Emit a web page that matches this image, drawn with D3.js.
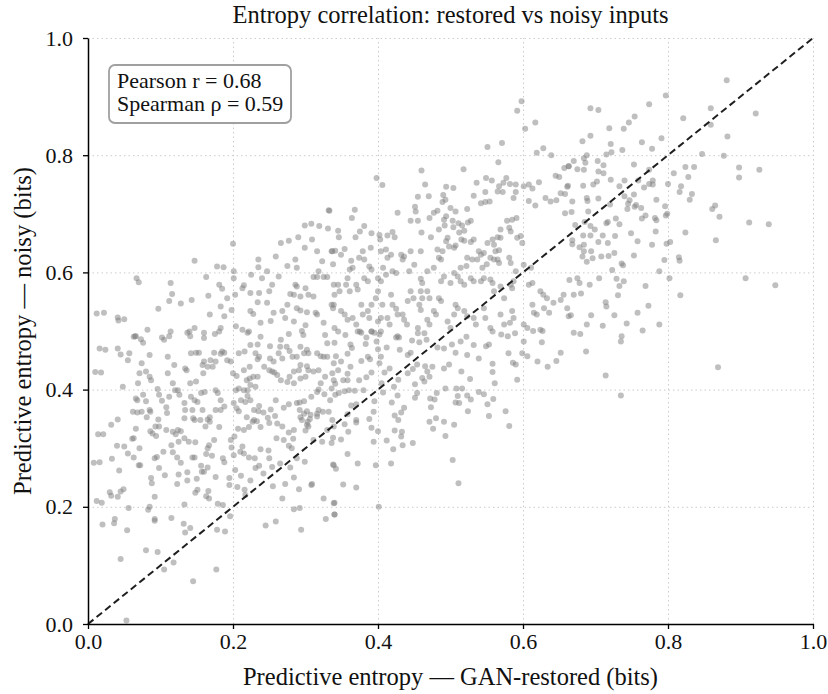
<!DOCTYPE html>
<html>
<head>
<meta charset="utf-8">
<script src="https://cdn.jsdelivr.net/npm/d3@7"></script>
<style>
  html, body { margin: 0; padding: 0; background: #fff; }
  svg { display: block; font-family: 'Liberation Serif', 'DejaVu Serif', serif; }
</style>
</head>
<body>
<div id="chart"></div>
<script>
// [restored entropy, noisy entropy] pairs
const upperLeft = [[0.332,0.706],[0.200,0.649],[0.147,0.620],[0.178,0.610],[0.187,0.609],[0.067,0.590],[0.070,0.583],[0.114,0.582],[0.022,0.531],[0.041,0.523],[0.042,0.518],[0.097,0.538],[0.112,0.551],[0.116,0.563],[0.128,0.547],[0.143,0.553],[0.163,0.592],[0.166,0.560],[0.181,0.579],[0.185,0.572],[0.183,0.542],[0.168,0.528],[0.188,0.525],[0.192,0.556],[0.198,0.536],[0.203,0.562],[0.201,0.590],[0.201,0.602],[0.215,0.578],[0.213,0.573],[0.224,0.565],[0.225,0.596],[0.235,0.622],[0.235,0.609],[0.247,0.602],[0.240,0.590],[0.236,0.565],[0.234,0.549],[0.247,0.548],[0.250,0.568],[0.254,0.579],[0.263,0.593],[0.259,0.627],[0.266,0.650],[0.277,0.654],[0.275,0.611],[0.286,0.622],[0.288,0.608],[0.290,0.660],[0.299,0.680],[0.308,0.683],[0.319,0.679],[0.331,0.675],[0.309,0.656],[0.299,0.642],[0.316,0.636],[0.323,0.619],[0.337,0.636],[0.318,0.602],[0.311,0.592],[0.316,0.592],[0.325,0.592],[0.330,0.592],[0.300,0.573],[0.286,0.579],[0.288,0.576],[0.279,0.563],[0.284,0.562],[0.293,0.559],[0.304,0.562],[0.311,0.559],[0.275,0.545],[0.268,0.534],[0.272,0.522],[0.288,0.539],[0.293,0.535],[0.302,0.532],[0.314,0.531],[0.316,0.528],[0.325,0.514],[0.339,0.545],[0.256,0.531],[0.252,0.517],[0.238,0.514],[0.224,0.534],[0.228,0.529],[0.213,0.502],[0.160,0.497],[0.082,0.502],[0.066,0.491],[0.204,0.508],[0.222,0.499],[0.183,0.505],[0.147,0.505],[0.137,0.497],[0.114,0.499],[0.284,0.516],[0.300,0.510],[0.339,0.579]];

const upperMiddle = [[0.598,0.892],[0.592,0.876],[0.603,0.845],[0.617,0.856],[0.551,0.814],[0.571,0.821],[0.619,0.804],[0.628,0.812],[0.639,0.800],[0.566,0.788],[0.518,0.776],[0.460,0.774],[0.398,0.761],[0.406,0.749],[0.465,0.750],[0.455,0.729],[0.470,0.730],[0.490,0.732],[0.489,0.720],[0.493,0.724],[0.494,0.746],[0.504,0.744],[0.536,0.753],[0.549,0.761],[0.557,0.757],[0.567,0.747],[0.573,0.753],[0.577,0.761],[0.582,0.751],[0.590,0.750],[0.532,0.731],[0.548,0.737],[0.542,0.718],[0.548,0.720],[0.554,0.721],[0.565,0.738],[0.572,0.737],[0.590,0.737],[0.587,0.727],[0.601,0.747],[0.608,0.750],[0.613,0.743],[0.622,0.754],[0.608,0.722],[0.617,0.714],[0.631,0.727],[0.638,0.721],[0.646,0.723],[0.652,0.735],[0.645,0.765],[0.650,0.763],[0.657,0.778],[0.663,0.781],[0.662,0.748],[0.658,0.734],[0.658,0.701],[0.427,0.702],[0.451,0.712],[0.452,0.704],[0.445,0.688],[0.455,0.688],[0.460,0.668],[0.471,0.693],[0.482,0.705],[0.477,0.702],[0.494,0.696],[0.491,0.690],[0.492,0.680],[0.500,0.710],[0.507,0.704],[0.503,0.688],[0.504,0.677],[0.511,0.684],[0.516,0.680],[0.523,0.708],[0.528,0.688],[0.524,0.685],[0.512,0.668],[0.519,0.671],[0.484,0.673],[0.473,0.660],[0.459,0.636],[0.445,0.636],[0.436,0.627],[0.434,0.622],[0.450,0.613],[0.423,0.660],[0.420,0.669],[0.413,0.663],[0.402,0.664],[0.403,0.656],[0.391,0.667],[0.381,0.679],[0.375,0.670],[0.369,0.660],[0.364,0.693],[0.368,0.707],[0.345,0.671],[0.346,0.660],[0.333,0.705],[0.336,0.636],[0.341,0.637],[0.349,0.630],[0.354,0.640],[0.338,0.614],[0.363,0.620],[0.361,0.605],[0.365,0.608],[0.374,0.625],[0.381,0.622],[0.379,0.636],[0.390,0.642],[0.388,0.610],[0.391,0.605],[0.404,0.636],[0.411,0.639],[0.413,0.625],[0.418,0.630],[0.407,0.608],[0.411,0.596],[0.400,0.590],[0.404,0.585],[0.420,0.602],[0.425,0.599],[0.432,0.630],[0.443,0.602],[0.459,0.589],[0.461,0.582],[0.468,0.602],[0.477,0.608],[0.484,0.625],[0.487,0.622],[0.482,0.639],[0.489,0.636],[0.498,0.644],[0.505,0.642],[0.507,0.646],[0.494,0.653],[0.496,0.659],[0.515,0.656],[0.519,0.654],[0.528,0.652],[0.532,0.656],[0.539,0.636],[0.542,0.630],[0.546,0.633],[0.551,0.650],[0.558,0.656],[0.560,0.647],[0.562,0.636],[0.567,0.638],[0.569,0.673],[0.581,0.676],[0.583,0.670],[0.578,0.688],[0.585,0.690],[0.591,0.693],[0.569,0.659],[0.565,0.660],[0.592,0.659],[0.597,0.662],[0.599,0.650],[0.581,0.625],[0.583,0.616],[0.565,0.622],[0.567,0.616],[0.555,0.625],[0.560,0.622],[0.550,0.614],[0.544,0.608],[0.523,0.625],[0.530,0.622],[0.537,0.622],[0.514,0.608],[0.522,0.611],[0.505,0.599],[0.510,0.593],[0.491,0.593],[0.487,0.585],[0.500,0.582],[0.514,0.585],[0.519,0.579],[0.528,0.590],[0.532,0.585],[0.542,0.585],[0.546,0.590],[0.555,0.588],[0.558,0.582],[0.560,0.568],[0.569,0.576],[0.574,0.556],[0.583,0.579],[0.585,0.573],[0.587,0.585],[0.590,0.602],[0.601,0.613],[0.611,0.608],[0.608,0.579],[0.613,0.582],[0.624,0.568],[0.628,0.562],[0.633,0.556],[0.642,0.548],[0.652,0.553],[0.656,0.562],[0.661,0.539],[0.663,0.525],[0.613,0.545],[0.615,0.531],[0.619,0.528],[0.629,0.539],[0.636,0.531],[0.601,0.511],[0.606,0.505],[0.624,0.502],[0.585,0.534],[0.587,0.522],[0.582,0.514],[0.569,0.528],[0.574,0.511],[0.555,0.505],[0.558,0.499],[0.546,0.539],[0.548,0.522],[0.532,0.522],[0.535,0.511],[0.519,0.534],[0.523,0.525],[0.507,0.545],[0.510,0.539],[0.505,0.528],[0.496,0.516],[0.500,0.505],[0.484,0.556],[0.487,0.551],[0.477,0.534],[0.480,0.528],[0.468,0.568],[0.471,0.556],[0.459,0.568],[0.461,0.556],[0.457,0.545],[0.459,0.536],[0.468,0.519],[0.471,0.511],[0.455,0.505],[0.441,0.551],[0.445,0.568],[0.449,0.556],[0.434,0.528],[0.436,0.519],[0.440,0.511],[0.425,0.538],[0.427,0.528],[0.418,0.562],[0.420,0.545],[0.413,0.522],[0.416,0.511],[0.404,0.522],[0.400,0.516],[0.406,0.545],[0.400,0.568],[0.397,0.556],[0.391,0.545],[0.386,0.534],[0.388,0.522],[0.377,0.545],[0.379,0.528],[0.381,0.590],[0.386,0.585],[0.370,0.579],[0.372,0.571],[0.358,0.590],[0.356,0.579],[0.361,0.568],[0.345,0.579],[0.347,0.568],[0.340,0.562],[0.336,0.545],[0.338,0.539],[0.349,0.534],[0.354,0.528],[0.358,0.519],[0.365,0.522],[0.370,0.511],[0.372,0.499],[0.377,0.497],[0.340,0.505],[0.345,0.499],[0.391,0.499],[0.395,0.497],[0.404,0.499],[0.427,0.491]];

const upperRight = [[0.881,0.928],[0.859,0.880],[0.921,0.871],[0.821,0.863],[0.859,0.852],[0.882,0.832],[0.797,0.902],[0.774,0.887],[0.693,0.880],[0.704,0.877],[0.754,0.866],[0.746,0.856],[0.719,0.846],[0.739,0.845],[0.693,0.833],[0.682,0.824],[0.791,0.829],[0.764,0.822],[0.721,0.819],[0.778,0.811],[0.737,0.809],[0.722,0.805],[0.715,0.801],[0.847,0.802],[0.877,0.799],[0.688,0.800],[0.684,0.795],[0.670,0.790],[0.686,0.787],[0.703,0.790],[0.663,0.781],[0.675,0.776],[0.684,0.775],[0.711,0.783],[0.711,0.769],[0.704,0.772],[0.753,0.784],[0.824,0.780],[0.836,0.780],[0.898,0.779],[0.926,0.775],[0.774,0.775],[0.808,0.769],[0.828,0.763],[0.898,0.762],[0.721,0.758],[0.702,0.755],[0.697,0.750],[0.683,0.748],[0.661,0.746],[0.733,0.747],[0.740,0.757],[0.759,0.757],[0.779,0.757],[0.774,0.751],[0.779,0.750],[0.800,0.751],[0.767,0.745],[0.818,0.747],[0.816,0.737],[0.833,0.734],[0.830,0.724],[0.753,0.733],[0.740,0.730],[0.784,0.724],[0.747,0.723],[0.745,0.717],[0.744,0.708],[0.756,0.715],[0.754,0.712],[0.763,0.710],[0.688,0.727],[0.689,0.722],[0.704,0.726],[0.668,0.721],[0.720,0.716],[0.667,0.703],[0.690,0.704],[0.796,0.713],[0.861,0.708],[0.865,0.714],[0.871,0.695],[0.912,0.685],[0.939,0.682],[0.797,0.697],[0.799,0.700],[0.769,0.697],[0.764,0.692],[0.782,0.693],[0.784,0.689],[0.728,0.692],[0.717,0.686],[0.715,0.684],[0.733,0.682],[0.672,0.681],[0.685,0.686],[0.693,0.679],[0.699,0.673],[0.683,0.663],[0.693,0.663],[0.710,0.663],[0.727,0.662],[0.749,0.667],[0.783,0.670],[0.824,0.668],[0.866,0.655],[0.668,0.655],[0.668,0.648],[0.704,0.652],[0.717,0.650],[0.758,0.653],[0.778,0.647],[0.798,0.649],[0.803,0.652],[0.678,0.643],[0.684,0.647],[0.684,0.636],[0.694,0.636],[0.682,0.627],[0.688,0.618],[0.696,0.624],[0.708,0.627],[0.718,0.628],[0.726,0.633],[0.736,0.615],[0.738,0.612],[0.753,0.629],[0.795,0.621],[0.815,0.626],[0.816,0.620],[0.723,0.604],[0.788,0.602],[0.802,0.590],[0.907,0.590],[0.948,0.578],[0.705,0.590],[0.729,0.589],[0.739,0.585],[0.664,0.587],[0.675,0.590],[0.678,0.582],[0.692,0.579],[0.733,0.577],[0.769,0.577],[0.670,0.562],[0.680,0.564],[0.731,0.561],[0.817,0.561],[0.714,0.549],[0.715,0.542],[0.773,0.543],[0.666,0.527],[0.694,0.527],[0.726,0.527],[0.758,0.531],[0.788,0.511],[0.688,0.511],[0.710,0.509],[0.743,0.513],[0.670,0.497],[0.679,0.495],[0.736,0.491],[0.765,0.501],[0.735,0.482],[0.687,0.465],[0.869,0.438],[0.714,0.424],[0.735,0.390]];

const lowerLeft = [[0.053,0.006],[0.145,0.073],[0.177,0.093],[0.105,0.093],[0.118,0.105],[0.096,0.123],[0.080,0.126],[0.045,0.111],[0.054,0.160],[0.037,0.179],[0.036,0.172],[0.092,0.179],[0.092,0.176],[0.115,0.181],[0.132,0.171],[0.141,0.164],[0.134,0.156],[0.178,0.161],[0.189,0.158],[0.196,0.184],[0.186,0.203],[0.179,0.205],[0.167,0.214],[0.163,0.218],[0.166,0.227],[0.133,0.204],[0.151,0.229],[0.148,0.224],[0.150,0.248],[0.137,0.245],[0.137,0.259],[0.123,0.239],[0.125,0.255],[0.106,0.254],[0.098,0.266],[0.092,0.217],[0.088,0.240],[0.087,0.249],[0.085,0.200],[0.083,0.195],[0.056,0.198],[0.045,0.226],[0.049,0.230],[0.041,0.217],[0.032,0.219],[0.019,0.207],[0.016,0.276],[0.033,0.282],[0.043,0.262],[0.055,0.291],[0.063,0.284],[0.071,0.300],[0.070,0.271],[0.072,0.271],[0.040,0.304],[0.050,0.303],[0.021,0.324],[0.032,0.340],[0.041,0.349],[0.061,0.316],[0.063,0.317],[0.066,0.333],[0.068,0.361],[0.062,0.362],[0.074,0.362],[0.086,0.362],[0.081,0.353],[0.086,0.329],[0.089,0.325],[0.094,0.321],[0.093,0.337],[0.098,0.337],[0.095,0.285],[0.092,0.283],[0.108,0.331],[0.117,0.328],[0.124,0.331],[0.128,0.329],[0.133,0.317],[0.121,0.324],[0.115,0.305],[0.125,0.311],[0.123,0.284],[0.128,0.275],[0.104,0.294],[0.117,0.293],[0.133,0.351],[0.145,0.351],[0.147,0.348],[0.139,0.311],[0.148,0.310],[0.147,0.284],[0.144,0.284],[0.156,0.270],[0.160,0.260],[0.165,0.267],[0.157,0.260],[0.176,0.251],[0.155,0.348],[0.165,0.349],[0.168,0.353],[0.168,0.345],[0.162,0.337],[0.167,0.305],[0.165,0.300],[0.171,0.287],[0.163,0.290],[0.174,0.314],[0.181,0.336],[0.186,0.283],[0.188,0.276],[0.195,0.249],[0.195,0.237],[0.206,0.234],[0.216,0.229],[0.217,0.220],[0.211,0.253],[0.224,0.245],[0.231,0.266],[0.242,0.257],[0.254,0.268],[0.255,0.235],[0.245,0.168],[0.259,0.175],[0.294,0.161],[0.268,0.214],[0.284,0.196],[0.292,0.198],[0.272,0.239],[0.291,0.230],[0.309,0.239],[0.284,0.250],[0.279,0.267],[0.299,0.277],[0.288,0.283],[0.281,0.300],[0.277,0.304],[0.265,0.274],[0.250,0.283],[0.236,0.270],[0.230,0.283],[0.222,0.284],[0.215,0.291],[0.210,0.294],[0.201,0.288],[0.203,0.263],[0.198,0.301],[0.213,0.303],[0.238,0.298],[0.249,0.296],[0.260,0.317],[0.270,0.314],[0.283,0.316],[0.300,0.330],[0.302,0.340],[0.303,0.345],[0.295,0.348],[0.293,0.353],[0.306,0.350],[0.307,0.357],[0.316,0.354],[0.318,0.365],[0.324,0.362],[0.337,0.348],[0.339,0.271],[0.339,0.206],[0.328,0.179],[0.340,0.187],[0.308,0.237],[0.325,0.214],[0.311,0.314],[0.323,0.311],[0.330,0.331],[0.339,0.337],[0.277,0.327],[0.284,0.331],[0.268,0.337],[0.258,0.355],[0.261,0.342],[0.250,0.343],[0.238,0.336],[0.233,0.346],[0.229,0.348],[0.227,0.345],[0.222,0.336],[0.219,0.353],[0.215,0.331],[0.207,0.333],[0.202,0.320],[0.197,0.314],[0.208,0.363],[0.205,0.368],[0.201,0.377],[0.211,0.382],[0.217,0.379],[0.224,0.382],[0.220,0.389],[0.229,0.365],[0.235,0.363],[0.236,0.372],[0.242,0.361],[0.248,0.352],[0.252,0.366],[0.259,0.382],[0.270,0.369],[0.277,0.375],[0.288,0.377],[0.292,0.378],[0.298,0.380],[0.292,0.365],[0.298,0.359],[0.302,0.363],[0.304,0.337],[0.316,0.359],[0.308,0.388],[0.316,0.396],[0.318,0.400],[0.326,0.392],[0.334,0.382],[0.341,0.391],[0.332,0.362],[0.341,0.410],[0.337,0.428],[0.339,0.445],[0.327,0.422],[0.321,0.411],[0.318,0.433],[0.311,0.431],[0.304,0.433],[0.302,0.440],[0.293,0.442],[0.291,0.433],[0.300,0.422],[0.293,0.419],[0.284,0.431],[0.278,0.422],[0.275,0.413],[0.284,0.411],[0.266,0.416],[0.261,0.425],[0.257,0.429],[0.254,0.431],[0.250,0.433],[0.243,0.439],[0.234,0.422],[0.231,0.405],[0.228,0.422],[0.223,0.419],[0.219,0.416],[0.224,0.408],[0.220,0.399],[0.215,0.399],[0.208,0.402],[0.204,0.399],[0.200,0.428],[0.205,0.423],[0.215,0.433],[0.223,0.439],[0.234,0.452],[0.236,0.456],[0.231,0.462],[0.234,0.477],[0.238,0.490],[0.251,0.474],[0.251,0.453],[0.256,0.448],[0.265,0.473],[0.263,0.462],[0.268,0.453],[0.274,0.473],[0.278,0.466],[0.277,0.495],[0.282,0.456],[0.288,0.456],[0.297,0.493],[0.295,0.500],[0.293,0.473],[0.298,0.462],[0.302,0.468],[0.304,0.462],[0.316,0.462],[0.321,0.457],[0.327,0.493],[0.330,0.479],[0.340,0.480],[0.325,0.456],[0.330,0.456],[0.266,0.485],[0.216,0.465],[0.220,0.497],[0.224,0.476],[0.208,0.462],[0.197,0.448],[0.192,0.450],[0.188,0.463],[0.185,0.465],[0.183,0.461],[0.181,0.499],[0.175,0.495],[0.174,0.463],[0.176,0.448],[0.169,0.450],[0.172,0.439],[0.165,0.439],[0.160,0.448],[0.158,0.442],[0.159,0.428],[0.160,0.488],[0.153,0.463],[0.149,0.463],[0.142,0.462],[0.140,0.499],[0.141,0.491],[0.136,0.433],[0.134,0.436],[0.141,0.411],[0.149,0.414],[0.142,0.388],[0.147,0.382],[0.144,0.365],[0.151,0.379],[0.156,0.394],[0.161,0.396],[0.176,0.399],[0.179,0.394],[0.183,0.382],[0.176,0.365],[0.183,0.365],[0.188,0.371],[0.158,0.365],[0.134,0.365],[0.133,0.377],[0.126,0.391],[0.124,0.399],[0.120,0.399],[0.117,0.411],[0.112,0.388],[0.110,0.428],[0.110,0.456],[0.119,0.442],[0.105,0.485],[0.102,0.489],[0.112,0.491],[0.085,0.459],[0.085,0.422],[0.087,0.416],[0.080,0.431],[0.074,0.445],[0.071,0.428],[0.069,0.411],[0.066,0.385],[0.068,0.382],[0.076,0.391],[0.080,0.380],[0.085,0.365],[0.096,0.401],[0.098,0.391],[0.102,0.381],[0.108,0.370],[0.109,0.360],[0.097,0.349],[0.055,0.450],[0.057,0.462],[0.048,0.405],[0.063,0.490],[0.065,0.491],[0.073,0.486],[0.076,0.480],[0.041,0.470],[0.024,0.468],[0.018,0.429]];

const lowerMiddle = [[0.503,0.280],[0.511,0.240],[0.401,0.200],[0.340,0.207],[0.340,0.187],[0.352,0.238],[0.370,0.233],[0.372,0.274],[0.358,0.290],[0.338,0.272],[0.342,0.265],[0.397,0.271],[0.418,0.274],[0.421,0.298],[0.434,0.305],[0.448,0.309],[0.412,0.313],[0.394,0.311],[0.400,0.329],[0.391,0.335],[0.423,0.330],[0.432,0.320],[0.433,0.328],[0.493,0.321],[0.491,0.345],[0.471,0.345],[0.476,0.333],[0.480,0.351],[0.505,0.340],[0.581,0.338],[0.576,0.363],[0.553,0.355],[0.524,0.363],[0.559,0.384],[0.551,0.375],[0.528,0.383],[0.523,0.390],[0.507,0.378],[0.512,0.377],[0.510,0.389],[0.508,0.402],[0.516,0.402],[0.493,0.402],[0.473,0.370],[0.472,0.385],[0.478,0.383],[0.451,0.386],[0.454,0.394],[0.481,0.394],[0.436,0.369],[0.432,0.361],[0.423,0.356],[0.428,0.348],[0.419,0.378],[0.427,0.390],[0.407,0.395],[0.394,0.362],[0.388,0.350],[0.370,0.348],[0.370,0.344],[0.354,0.341],[0.359,0.328],[0.349,0.315],[0.338,0.318],[0.336,0.309],[0.358,0.358],[0.363,0.373],[0.370,0.375],[0.346,0.394],[0.354,0.397],[0.360,0.399],[0.368,0.398],[0.380,0.399],[0.395,0.380],[0.405,0.411],[0.409,0.429],[0.416,0.436],[0.402,0.445],[0.428,0.417],[0.422,0.405],[0.441,0.428],[0.448,0.435],[0.454,0.443],[0.465,0.440],[0.475,0.439],[0.468,0.431],[0.471,0.422],[0.461,0.420],[0.451,0.409],[0.464,0.414],[0.491,0.436],[0.498,0.443],[0.515,0.431],[0.527,0.418],[0.539,0.396],[0.546,0.392],[0.558,0.430],[0.558,0.444],[0.561,0.411],[0.539,0.453],[0.523,0.459],[0.507,0.463],[0.502,0.477],[0.514,0.482],[0.522,0.490],[0.532,0.476],[0.549,0.474],[0.553,0.477],[0.570,0.494],[0.579,0.491],[0.580,0.462],[0.586,0.446],[0.590,0.443],[0.592,0.417],[0.601,0.482],[0.599,0.462],[0.606,0.457],[0.620,0.448],[0.626,0.481],[0.634,0.439],[0.646,0.449],[0.652,0.463],[0.589,0.496],[0.614,0.500],[0.627,0.500],[0.482,0.472],[0.491,0.470],[0.467,0.485],[0.457,0.481],[0.445,0.463],[0.441,0.459],[0.455,0.496],[0.464,0.496],[0.447,0.484],[0.429,0.489],[0.425,0.489],[0.412,0.472],[0.430,0.468],[0.404,0.456],[0.400,0.469],[0.398,0.482],[0.402,0.494],[0.391,0.499],[0.386,0.456],[0.389,0.452],[0.383,0.478],[0.384,0.489],[0.377,0.449],[0.391,0.429],[0.384,0.421],[0.374,0.416],[0.364,0.471],[0.362,0.477],[0.358,0.461],[0.362,0.439],[0.358,0.427],[0.358,0.416],[0.349,0.448],[0.342,0.457],[0.345,0.433],[0.339,0.416],[0.336,0.402],[0.352,0.416],[0.375,0.499],[0.355,0.493]];

const leftEdge = [[0.012,0.530],[0.016,0.470],[0.010,0.430],[0.014,0.324],[0.008,0.275],[0.012,0.210],[0.020,0.170],[0.030,0.225],[0.050,0.520],[0.045,0.460]];

const tickValues = [0, 0.2, 0.4, 0.6, 0.8, 1.0];
const titleText = 'Entropy correlation: restored vs noisy inputs';
const xLabel = 'Predictive entropy \u2014 GAN-restored (bits)';
const yLabel = 'Predictive entropy \u2014 noisy (bits)';
const statLines = ['Pearson r = 0.68', 'Spearman \u03c1 = 0.59'];

const width = 828;
const height = 694;
const margin = { top: 38, right: 15, bottom: 70, left: 88 };
const graphWidth = width - margin.left - margin.right;
const graphHeight = height - margin.top - margin.bottom;

const points = [...upperLeft, ...upperMiddle, ...upperRight, ...lowerLeft, ...lowerMiddle, ...leftEdge];

const svg = d3
    .select('#chart')
    .append('svg')
    .attr('width', width)
    .attr('height', height)
    .attr('viewBox', [0, 0, width, height]);

const graph = svg.append('g').attr('transform', `translate(${margin.left}, ${margin.top})`);

const x = d3.scaleLinear().domain([0, 1]).range([0, graphWidth]);
const y = d3.scaleLinear().domain([0, 1]).range([graphHeight, 0]);

// dotted grid
const gridStyle = (g) => {
    g.select('.domain').remove();
    g.selectAll('text').remove();
    g.selectAll('line')
        .attr('stroke', '#cccccc')
        .attr('stroke-width', 1)
        .attr('stroke-dasharray', '1.5,3');
};
graph.append('g')
    .attr('transform', `translate(0, ${graphHeight})`)
    .call(d3.axisBottom(x).tickValues(tickValues).tickSize(-graphHeight))
    .call(gridStyle);
graph.append('g')
    .call(d3.axisLeft(y).tickValues(tickValues).tickSize(-graphWidth))
    .call(gridStyle);

// scatter
graph.append('g')
    .selectAll('circle')
    .data(points)
    .join('circle')
    .attr('cx', (d) => x(d[0]))
    .attr('cy', (d) => y(d[1]))
    .attr('r', 3)
    .attr('fill', '#7f7f7f')
    .attr('fill-opacity', 0.5);

// identity line
graph.append('line')
    .attr('x1', x(0))
    .attr('y1', y(0))
    .attr('x2', x(1))
    .attr('y2', y(1))
    .attr('stroke', '#1f1f1f')
    .attr('stroke-width', 2)
    .attr('stroke-dasharray', '7,4');

// axes
const axisStyle = (g) => {
    g.select('.domain').attr('stroke', '#000').attr('stroke-width', 1.5);
    g.selectAll('.tick line').attr('stroke', '#000').attr('stroke-width', 1.3);
    g.selectAll('.tick text').attr('font-size', 22).attr('fill', '#111').attr('font-family', 'Liberation Serif');
};
graph.append('g')
    .attr('transform', `translate(0, ${graphHeight})`)
    .call(d3.axisBottom(x).tickValues(tickValues).tickFormat(d3.format('.1f')).tickSize(5).tickSizeOuter(0).tickPadding(4))
    .call(axisStyle);
graph.append('g')
    .call(d3.axisLeft(y).tickValues(tickValues).tickFormat(d3.format('.1f')).tickSize(5).tickSizeOuter(0).tickPadding(10))
    .call(axisStyle);

// stats box
const box = graph.append('g').attr('transform', 'translate(21, 27)');
box.append('rect')
    .attr('width', 182)
    .attr('height', 58)
    .attr('rx', 6)
    .attr('fill', '#fff')
    .attr('stroke', '#a0a0a0')
    .attr('stroke-width', 1.8);
box.selectAll('text')
    .data(statLines)
    .join('text')
    .attr('x', 8)
    .attr('y', (_, i) => 23 + i * 23)
    .attr('font-size', 22)
    .attr('fill', '#111')
    .text((d) => d);

// title and labels
svg.append('text')
    .attr('x', margin.left + graphWidth / 2)
    .attr('y', 23)
    .attr('text-anchor', 'middle')
    .attr('font-size', 24.5)
    .attr('fill', '#111')
    .text(titleText);

svg.append('text')
    .attr('x', margin.left + graphWidth / 2)
    .attr('y', 685)
    .attr('text-anchor', 'middle')
    .attr('font-size', 24.5)
    .attr('fill', '#111')
    .text(xLabel);

svg.append('text')
    .attr('transform', `translate(31, ${margin.top + graphHeight / 2}) rotate(-90)`)
    .attr('text-anchor', 'middle')
    .attr('font-size', 24.5)
    .attr('fill', '#111')
    .text(yLabel);
</script>
</body>
</html>
